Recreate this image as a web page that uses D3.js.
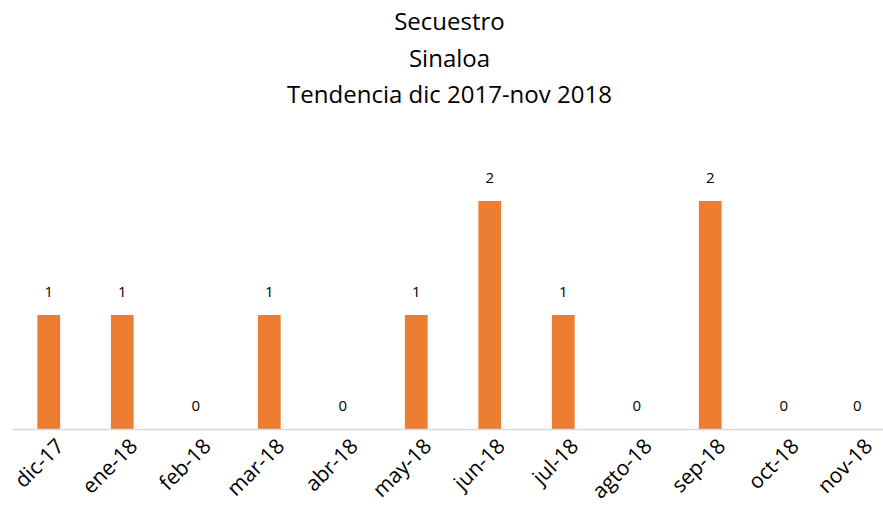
<!DOCTYPE html>
<meta charset="utf-8">
<html>
<head>
	<script src="https://d3js.org/d3.v7.min.js"></script>
	<style>
		body { margin: 0; background: #fff; }
		text { font-family: "Open Sans", "Noto Sans", sans-serif; fill: #000; }
	</style>
</head>
<body>
<div id="chart"></div>
<script>

// data
var meses = ["dic-17", "ene-18", "feb-18", "mar-18", "abr-18", "may-18", "jun-18", "jul-18", "agto-18", "sep-18", "oct-18", "nov-18"];
var valores = [1, 1, 0, 1, 0, 1, 2, 1, 0, 2, 0, 0];
var titulo = ["Secuestro", "Sinaloa", "Tendencia dic 2017-nov 2018"];

var W = 883, H = 509;
var baseY = 429;

var svg = d3.select("#chart")
  .append("svg")
    .attr("width", W)
    .attr("height", H);

// titulo
svg.selectAll("text.titulo")
  .data(titulo)
  .enter()
  .append("text")
  .attr("class", "titulo")
  .attr("x", W / 2 + 8)
  .attr("y", function(d, i) { return 30 + i * 36.5; })
  .attr("text-anchor", "middle")
  .style("font-size", "24px")
  .text(function(d) { return d; });

var x = d3.scaleBand()
  .domain(meses)
  .range([12, 894])
  .paddingInner(0.69)
  .paddingOuter(0.345);

var y = d3.scaleLinear()
  .domain([0, 2])
  .range([baseY, baseY - 228]);

// barras
svg.selectAll("rect.barra")
  .data(valores)
  .enter()
  .append("rect")
  .attr("class", "barra")
  .attr("x", function(d, i) { return x(meses[i]); })
  .attr("y", function(d) { return y(d); })
  .attr("width", x.bandwidth())
  .attr("height", function(d) { return baseY - y(d); })
  .attr("fill", "#ed7d31");

// etiquetas de valor
svg.selectAll("text.valor")
  .data(valores)
  .enter()
  .append("text")
  .attr("class", "valor")
  .attr("x", function(d, i) { return x(meses[i]) + x.bandwidth() / 2; })
  .attr("y", function(d) { return y(d) - 18; })
  .attr("text-anchor", "middle")
  .style("font-size", "15px")
  .text(function(d) { return d; });

// eje x
var eje = svg.append("g")
  .attr("transform", "translate(0," + baseY + ")")
  .call(d3.axisBottom(x).tickSize(0).tickPadding(0));

eje.select(".domain")
  .attr("stroke", "#d9d9d9")
  .attr("stroke-width", 1.5);

eje.selectAll(".tick text")
  .attr("text-anchor", "end")
  .attr("transform", "translate(6,8) rotate(-45)")
  .attr("dy", "0.7em")
  .style("font-size", "21px")
  .style("font-family", "'Open Sans', sans-serif");

</script>
</body>
</html>
